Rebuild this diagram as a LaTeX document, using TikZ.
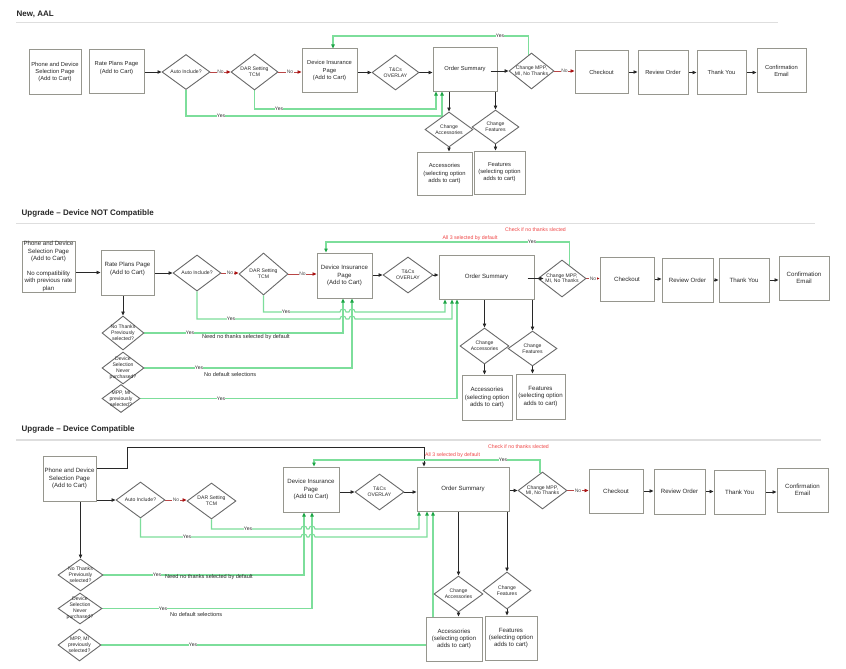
\documentclass[tikz,border=0pt]{standalone}
\usepackage{fontspec}
\setmainfont{Liberation Sans}
\usetikzlibrary{shapes.geometric,arrows.meta,calc}
\pgfdeclarelayer{bg}
\pgfsetlayers{bg,main}
\definecolor{boxgray}{RGB}{150,150,142}
\definecolor{diagray}{RGB}{105,105,105}
\definecolor{lgreen}{RGB}{125,222,155}
\definecolor{gtip}{RGB}{30,165,70}
\definecolor{rline}{RGB}{185,70,70}
\definecolor{rtip}{RGB}{170,20,20}
\definecolor{rtext}{RGB}{240,70,70}
\definecolor{sepgray}{RGB}{222,222,222}
\definecolor{ink}{RGB}{40,40,40}
\tikzset{
 box/.style={draw=boxgray, line width=1pt, fill=white, inner sep=0pt, align=center, text=ink},
 fA/.style={font=\fontsize{5.8}{7.1}\selectfont},
 fB/.style={font=\fontsize{6.1}{7.4}\selectfont},
 dia/.style={diamond, draw=diagray, line width=0.9pt, fill=white, inner sep=0pt},
 dtext/.style={align=center, inner sep=0pt, text=ink, font=\fontsize{5.1}{5.9}\selectfont},
 barrow/.style={draw=ink, line width=0.8pt, -{Triangle[length=4pt,width=3.4pt]}},
 rarrow/.style={draw=rline, line width=0.8pt, -{Triangle[length=4pt,width=3.4pt,color=rtip]}},
 gline/.style={draw=lgreen, line width=1.1pt, -{Triangle[length=4pt,width=3.4pt,color=gtip]}},
 ylab/.style={fill=white, inner sep=0.4pt, text=ink, font=\fontsize{5}{6}\selectfont},
 nolab/.style={fill=white, inner sep=0.4pt, text=ink!80, font=\fontsize{5}{6}\selectfont},
 annot/.style={inner sep=0pt, text=ink, font=\fontsize{5.6}{6.5}\selectfont},
 rnote/.style={inner sep=0pt, text=rtext, font=\fontsize{5.2}{6}\selectfont},
 sectitle/.style={inner sep=0pt, anchor=west, font=\fontsize{8}{9.6}\selectfont\bfseries, text=black!85},
 sepline/.style={draw=sepgray, line width=1pt},
}
\newcommand\Bx[7][]{\node[box,#1,minimum width=#5pt,minimum height=#6pt] (#2) at (#3,#4) {#7};}
\newcommand\Dm[6]{\node[dia,minimum width=#4pt,minimum height=#5pt] (#1) at (#2,#3) {};\node[dtext] (#1-t) at (#1.center) {#6};}
\newcommand\hop{arc[start angle=180,end angle=360,radius=3]}
\begin{document}
\begin{tikzpicture}[x=1pt,y=-1pt]
\useasboundingbox (0,0) rectangle (846,669);
\begin{pgfonlayer}{bg}
\fill[white] (0,0) rectangle (846,669);
\end{pgfonlayer}

% ================= Section 1 =================
\node[sectitle] (t1) at (16.5,14) {New, AAL};
\draw[sepline] (16,23) -- (778,23);
\Bx[fA]{s1phone}{55}{72}{52}{44}{Phone and Device\\Selection Page\\(Add to Cart)}
\Bx[fA]{s1rate}{116.5}{71.5}{55}{43}{}
\node[fA,align=center,inner sep=0pt,text=ink] (s1rate-t) at ([yshift=3.5pt]s1rate.center) {Rate Plans Page\\(Add to Cart)};
\Dm{s1auto}{186}{72}{48}{35}{Auto Include?}
\Dm{s1dar}{254.5}{72}{47}{36}{DAR Setting\\TCM}
\Bx[fA]{s1dev}{329.5}{70.5}{55}{43}{Device Insurance\\Page\\(Add to Cart)}
\Dm{s1tc}{395.5}{72.5}{47}{35}{T\&Cs\\OVERLAY}
\Bx[fA]{s1os}{465}{69.5}{64}{43}{Order Summary}
\Dm{s1mpp}{531.5}{71}{45}{36}{Change MPP,\\MI, No Thanks}
\Bx[fA]{s1chk}{601.5}{72}{53}{42}{Checkout}
\Bx[fA]{s1rev}{663}{72.5}{50}{43}{Review Order}
\Bx[fA]{s1ty}{721.5}{72.5}{49}{43}{Thank You}
\Bx[fA]{s1ce}{781.5}{70.5}{49}{43}{Confirmation\\Email}
\Dm{s1cacc}{449}{129.5}{48}{35}{Change\\Accessories}
\Dm{s1cfeat}{495.5}{127}{47}{34}{Change\\Features}
\Bx[fA]{s1acc}{444.5}{173.5}{55}{43}{Accessories\\(selecting option\\adds to cart)}
\Bx[fA]{s1feat}{499.5}{172.5}{51}{43}{Features\\(selecting option\\adds to cart)}

\begin{pgfonlayer}{bg}
\draw[barrow] (s1rate.east |- s1auto) -- (s1auto.west);
\draw[rarrow] (s1auto.east) -- node[nolab]{No} (s1auto.east -| s1dar.west);
\draw[rarrow] (s1dar.east) -- node[nolab]{No} (s1dar.east -| s1dev.west);
\draw[barrow] (s1dev.east |- s1tc) -- (s1tc.west);
\draw[barrow] (s1tc.east) -- (s1tc.east -| s1os.west);
\draw[rarrow] (s1mpp.east) -- node[nolab]{No} (s1mpp.east -| s1chk.west);
\draw[barrow] (s1chk.east) -- (s1chk.east -| s1rev.west);
\draw[barrow] (s1rev.east) -- (s1rev.east -| s1ty.west);
\draw[barrow] (s1ty.east) -- (s1ty.east -| s1ce.west);
\draw[gline] ($(s1mpp.north)!0.15!(s1mpp.west)$) |- (333,36) -- ([xshift=3.5pt]s1dev.north);
\draw[gline] (s1dar.south) |- (436,109) -- ([xshift=-29pt]s1os.south);
\draw[gline] (s1auto.south) |- (442,116) -- ([xshift=-23pt]s1os.south);
\draw[barrow] (s1os.south -| s1cacc.north) -- (s1cacc.north);
\draw[barrow] (s1os.south -| s1cfeat.north) -- (s1cfeat.north);
\draw[barrow] (s1cacc.south) -- (s1cacc.south |- s1acc.north);
\draw[barrow] (s1cfeat.south) -- (s1cfeat.south |- s1feat.north);
\end{pgfonlayer}
\draw[barrow] ([xshift=-7pt]s1os.east |- s1mpp) -- (s1mpp.west);
\node[ylab] (s1y1) at (500,36) {Yes};
\node[ylab] (s1y2) at (279,109) {Yes};
\node[ylab] (s1y3) at (221,116) {Yes};

% ================= Section 2 =================
\node[sectitle] (t2) at (21.5,213) {Upgrade – Device NOT Compatible};
\draw[sepline] (16,223) -- (815,223);
\Bx[fB]{s2phone}{48.5}{266.5}{53}{51}{Phone and Device\\Selection Page\\(Add to Cart)\\[7.4pt]No compatibility\\with previous rate\\plan}
\Bx[fB]{s2rate}{127.5}{272.5}{53}{45}{}
\node[fB,align=center,inner sep=0pt,text=ink] (s2rate-t) at ([yshift=3.5pt]s2rate.center) {Rate Plans Page\\(Add to Cart)};
\Dm{s2auto}{197}{273}{48}{36}{Auto Include?}
\Dm{s2dar}{263.5}{274}{49}{42}{DAR Setting\\TCM}
\Bx[fB]{s2dev}{344.5}{275.5}{55}{45}{Device Insurance\\Page\\(Add to Cart)}
\Dm{s2tc}{408}{275}{50}{36}{T\&Cs\\OVERLAY}
\Bx[fB]{s2os}{486.5}{277}{95}{44}{Order Summary}
\Dm{s2mpp}{562}{278.5}{48}{37}{Change MPP,\\MI, No Thanks}
\Bx[fB]{s2chk}{627}{279}{54}{44}{Checkout}
\Bx[fB]{s2rev}{687.5}{280}{51}{44}{Review Order}
\Bx[fB]{s2ty}{744}{280}{50}{44}{Thank You}
\Bx[fB]{s2ce}{804}{278}{50}{44}{Confirmation\\Email}
\Dm{s2nt}{123}{333}{42}{34}{No Thanks\\Previously\\selected?}
\Dm{s2ds}{123}{368}{42}{32}{Device\\Selection\\Never\\purchased?}
\Dm{s2mm}{121}{398.5}{38}{28}{MPP, MI\\previously\\selected?}
\Dm{s2cacc}{484.5}{346}{49}{36}{Change\\Accessories}
\Dm{s2cfeat}{532.5}{348.5}{49}{35}{Change\\Features}
\Bx[fB]{s2acc}{487}{397.5}{50}{45}{Accessories\\(selecting option\\adds to cart)}
\Bx[fB]{s2feat}{540.5}{396.5}{49}{45}{Features\\(selecting option\\adds to cart)}

\begin{pgfonlayer}{bg}
\draw[barrow] (s2phone.east |- s2rate) -- (s2rate.west);
\draw[barrow] (s2rate.east |- s2auto) -- (s2auto.west);
\draw[rarrow] (s2auto.east) -- node[nolab]{No} (s2auto.east -| s2dar.west);
\draw[rarrow] (s2dar.east) -- node[nolab]{No} (s2dar.east -| s2dev.west);
\draw[barrow] (s2dev.east |- s2tc) -- (s2tc.west);
\draw[barrow] (s2tc.east) -- (s2tc.east -| s2os.west);
\draw[rarrow] (s2mpp.east) -- node[nolab]{No} (s2mpp.east -| s2chk.west);
\draw[barrow] (s2chk.east) -- (s2chk.east -| s2rev.west);
\draw[barrow] (s2rev.east) -- (s2rev.east -| s2ty.west);
\draw[barrow] (s2ty.east) -- (s2ty.east -| s2ce.west);
\draw[gline] ($(s2mpp.north)!0.3!(s2mpp.east)$) |- (326,242) -- ([xshift=-18.5pt]s2dev.north);
\draw[gline] (s2dar.south) |- (340,312) \hop -- (349,312) \hop -- (445,312) -- ([xshift=-41.5pt]s2os.south);
\draw[gline] (s2auto.south) |- (340,319) \hop -- (349,319) \hop -- (452,319) -- ([xshift=-34.5pt]s2os.south);
\draw[gline] (s2nt.east) -| ([xshift=-1.5pt]s2dev.south);
\draw[gline] (s2ds.east) -| ([xshift=7.5pt]s2dev.south);
\draw[gline] (s2mm.east) -| ([xshift=-29.5pt]s2os.south);
\draw[barrow] (s2rate.south -| s2nt.north) -- (s2nt.north);
\draw[barrow] (s2os.south -| s2cacc.north) -- (s2cacc.north);
\draw[barrow] (s2os.south -| s2cfeat.north) -- (s2cfeat.north);
\draw[barrow] (s2cacc.south) -- (s2cacc.south |- s2acc.north);
\draw[barrow] (s2cfeat.south) -- (s2cfeat.south |- s2feat.north);
\end{pgfonlayer}
\draw[barrow] ([xshift=-7pt]s2os.east |- s2mpp) -- ([xshift=6pt]s2mpp.west);
\node[ylab] (s2y1) at (532,242) {Yes};
\node[ylab] (s2y2) at (286,312) {Yes};
\node[ylab] (s2y3) at (231,319) {Yes};
\node[ylab] (s2y4) at (190,333) {Yes};
\node[ylab] (s2y5) at (199,368) {Yes};
\node[ylab] (s2y6) at (221,398.5) {Yes};
\node[annot,anchor=west] (s2n1) at (202,337.5) {Need no thanks selected by default};
\node[annot,anchor=west] (s2n2) at (204,374) {No default selections};
\node[rnote] (s2r1) at (470,238) {All 3 selected by default};
\node[rnote] (s2r2) at (535.5,230) {Check if no thanks slected};

% ================= Section 3 =================
\node[sectitle] (t3) at (21.5,429) {Upgrade – Device Compatible};
\draw[sepline,line width=1.6pt] (16,440) -- (821,440);
\Bx[fB]{s3phone}{69.5}{478.5}{53}{45}{Phone and Device\\Selection Page\\(Add to Cart)}
\Dm{s3auto}{140.5}{500}{49}{36}{Auto Include?}
\Dm{s3dar}{211.5}{501}{49}{36}{DAR Setting\\TCM}
\Bx[fB]{s3dev}{311}{489.5}{56}{45}{Device Insurance\\Page\\(Add to Cart)}
\Dm{s3tc}{379.5}{492}{49}{36}{T\&Cs\\OVERLAY}
\Bx[fB]{s3os}{463}{489}{92}{44}{Order Summary}
\Dm{s3mpp}{542.5}{490.5}{49}{37}{Change MPP,\\MI, No Thanks}
\Bx[fB]{s3chk}{616}{491}{54}{44}{Checkout}
\Bx[fB]{s3rev}{679.5}{491.5}{51}{45}{Review Order}
\Bx[fB]{s3ty}{739.5}{492}{51}{44}{Thank You}
\Bx[fB]{s3ce}{802.5}{490}{51}{44}{Confirmation\\Email}
\Dm{s3nt}{80.5}{575}{45}{32}{No Thanks\\Previously\\selected?}
\Dm{s3ds}{80}{608.5}{44}{31}{Device\\Selection\\Never\\purchased?}
\Dm{s3mm}{79.5}{645}{43}{32}{MPP, MI\\previously\\selected?}
\Dm{s3cacc}{458.5}{594}{49}{36}{Change\\Accessories}
\Dm{s3cfeat}{507}{590.5}{48}{37}{Change\\Features}
\Bx[fB]{s3acc}{454}{639}{56}{44}{Accessories\\(selecting option\\adds to cart)}
\Bx[fB]{s3feat}{511}{638}{52}{44}{Features\\(selecting option\\adds to cart)}

\begin{pgfonlayer}{bg}
\draw[barrow] ([yshift=10.5pt]s3phone.east) -| (127,447) -| ([xshift=-39pt]s3os.north);
\draw[barrow] (s3phone.east |- s3auto) -- (s3auto.west);
\draw[rarrow] (s3auto.east) -- node[nolab]{No} (s3auto.east -| s3dar.west);
\draw[barrow] (s3dev.east |- s3tc) -- (s3tc.west);
\draw[barrow] (s3tc.east) -- (s3tc.east -| s3os.west);
\draw[barrow] (s3os.east |- s3mpp) -- (s3mpp.west);
\draw[rarrow] (s3mpp.east) -- node[nolab]{No} (s3mpp.east -| s3chk.west);
\draw[barrow] (s3chk.east) -- (s3chk.east -| s3rev.west);
\draw[barrow] (s3rev.east) -- (s3rev.east -| s3ty.west);
\draw[barrow] (s3ty.east) -- (s3ty.east -| s3ce.west);
\draw[gline] ($(s3mpp.north)!0.1!(s3mpp.west)$) |- (314,460) -- ([xshift=3pt]s3dev.north);
\draw[gline] (s3dar.south) |- (301,529) \hop -- (309,529) \hop -- (419,529) -- ([xshift=-44pt]s3os.south);
\draw[gline] (s3auto.south) |- (301,537) \hop -- (309,537) \hop -- (427,537) -- ([xshift=-36pt]s3os.south);
\draw[gline] (s3nt.east) -| ([xshift=-7pt]s3dev.south);
\draw[gline] (s3ds.east) -| ([xshift=1pt]s3dev.south);
\draw[gline] (s3mm.east) -| ([xshift=-30pt]s3os.south);
\draw[barrow] (s3phone.south -| s3nt.north) -- (s3nt.north);
\draw[barrow] (s3os.south -| s3cacc.north) -- (s3cacc.north);
\draw[barrow] (s3os.south -| s3cfeat.north) -- (s3cfeat.north);
\draw[barrow] (s3cacc.south) -- (s3cacc.south |- s3acc.north);
\draw[barrow] (s3cfeat.south) -- (s3cfeat.south |- s3feat.north);
\end{pgfonlayer}
\node[ylab] (s3y1) at (503,460) {Yes};
\node[ylab] (s3y2) at (248,529) {Yes};
\node[ylab] (s3y3) at (187,537) {Yes};
\node[ylab] (s3y4) at (157,575) {Yes};
\node[ylab] (s3y5) at (163,608.5) {Yes};
\node[ylab] (s3y6) at (193,645) {Yes};
\node[annot,anchor=west] (s3n1) at (165,577.5) {Need no thanks selected by default};
\node[annot,anchor=west] (s3n2) at (170,614) {No default selections};
\node[rnote] (s3r1) at (452.5,455) {All 3 selected by default};
\node[rnote] (s3r2) at (518.5,447) {Check if no thanks slected};
\end{tikzpicture}
\end{document}
